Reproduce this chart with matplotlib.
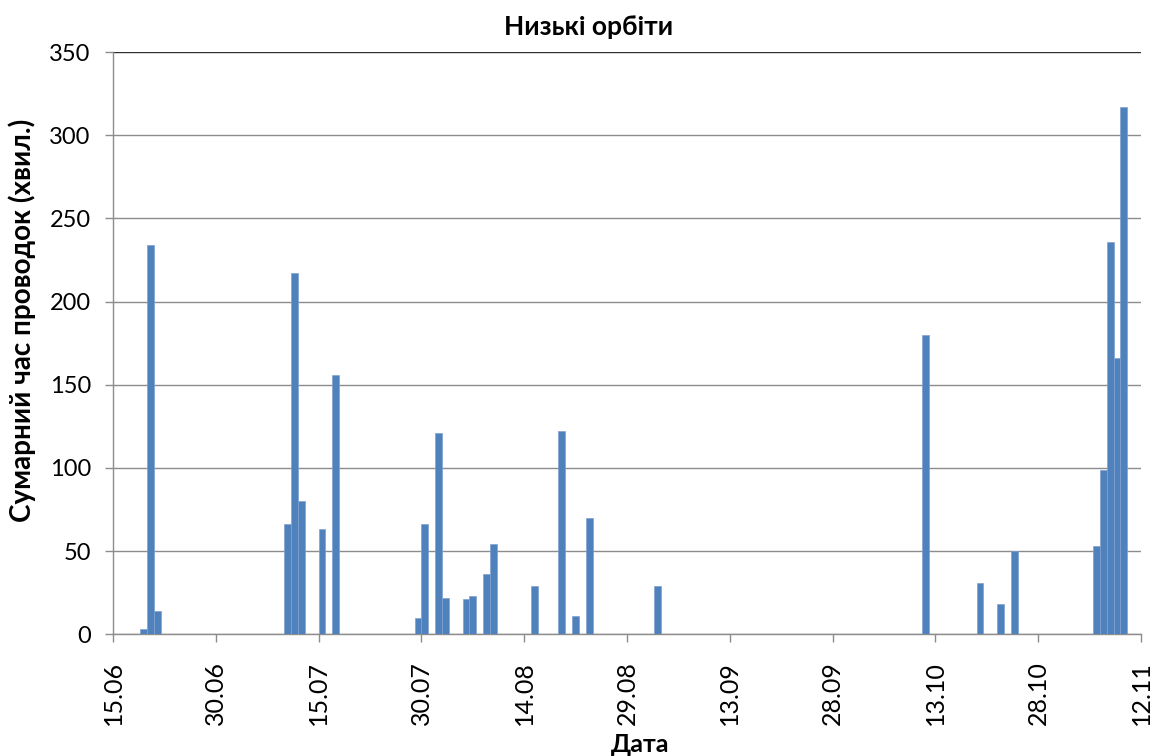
import matplotlib
matplotlib.use("Agg")
import matplotlib.pyplot as plt
import pandas as pd

plt.rcParams['font.family'] = ['Lato', 'Open Sans', 'DejaVu Sans']

title = "Низькі орбіти"
xlabel = "Дата"
ylabel = "Сумарний час проводок (хвил.)"
year = 2013

dates = ["19.06", "20.06", "21.06",
         "10.07", "11.07", "12.07", "15.07", "17.07",
         "29.07", "30.07", "01.08", "02.08", "05.08", "06.08", "08.08", "09.08",
         "15.08", "19.08", "21.08", "23.08", "02.09",
         "11.10", "19.10", "22.10", "24.10",
         "05.11", "06.11", "07.11", "08.11", "09.11"]
values = [3, 234, 14,
          66, 217, 80, 63, 156,
          10, 66, 121, 22, 21, 23, 36, 54,
          29, 122, 11, 70, 29,
          180, 31, 18, 50,
          53, 99, 236, 166, 317]
tick_labels = ["15.06", "30.06", "15.07", "30.07", "14.08", "29.08",
               "13.09", "28.09", "13.10", "28.10", "12.11"]
yticks = [0, 50, 100, 150, 200, 250, 300, 350]

to_dt = lambda s: pd.to_datetime(f"{s}.{year}", format="%d.%m.%Y")
x = [to_dt(d) for d in dates]
ticks = [to_dt(t) for t in tick_labels]

W, H = 1153, 756
fig = plt.figure(figsize=(W / 100, H / 100), dpi=100)
ax = fig.add_axes([0.098, 0.161, 0.8916, 0.7702])

ax.bar(x, values, width=1.0, align='edge', color='#4F81BD',
       edgecolor='#7FA1CF', linewidth=0.5, zorder=3)

ax.set_xlim(ticks[0], ticks[-1])
ax.set_ylim(0, 350)
ax.set_yticks(yticks)
ax.set_xticks(ticks)
ax.set_xticklabels(tick_labels, rotation=90)
ax.yaxis.grid(True, color='#8C8C8C', linewidth=1.0, zorder=0)
ax.set_axisbelow(True)
ax.yaxis.get_gridlines()[-1].set_color('#303030')

for s in ['top', 'right']:
    ax.spines[s].set_visible(False)
for s in ['left', 'bottom']:
    ax.spines[s].set_color('#8C8C8C')
    ax.spines[s].set_linewidth(1.0)

ax.tick_params(axis='both', colors='#8C8C8C', labelcolor='black',
               length=6, width=1, direction='out')
ax.tick_params(axis='x', pad=13, labelsize=18)
ax.tick_params(axis='y', pad=10, labelsize=17)

fig.text(589 / W, 1 - 35 / H, title, fontsize=19, fontweight='bold',
         ha='center', va='baseline')
fig.text(640 / W, 1 - 752 / H, xlabel, fontsize=18, fontweight='bold',
         ha='center', va='baseline')
fig.text(22 / W, 1 - 320 / H, ylabel, fontsize=20, fontweight='bold',
         ha='center', va='center', rotation=90)

fig.savefig("out.png", dpi=100)
